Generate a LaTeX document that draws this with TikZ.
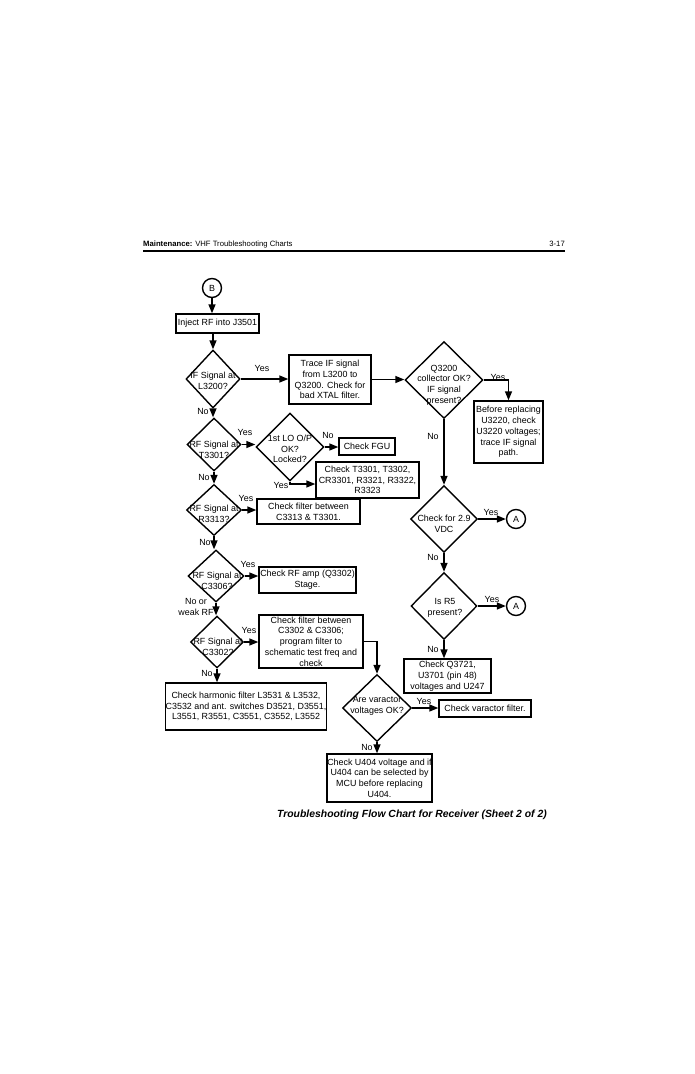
\documentclass[tikz,border=0pt]{standalone}
\usepackage{fontspec}
\setmainfont{Liberation Sans}
\usetikzlibrary{shapes.geometric,arrows.meta}
\begin{document}
\begin{tikzpicture}[x=1pt,y=-1pt,
  every node/.style={font=\fontsize{8.9}{10.7}\selectfont},
  box/.style={draw,line width=1.4pt,inner sep=0pt,align=center},
  dia/.style={draw,diamond,line width=1.4pt,inner sep=0pt},
  circ/.style={draw,circle,line width=1.4pt,minimum size=19pt,inner sep=0pt},
  txt/.style={align=center,inner sep=0pt},
  lbl/.style={inner sep=0pt},
  conn/.style={line width=1.4pt},
  arr/.style={conn,-{Triangle[length=9pt,width=7pt]}}]
\useasboundingbox (0,0) rectangle (695,1074);
% header
\node[anchor=base west,font=\fontsize{7.7}{9}\selectfont,inner sep=0pt] (hdr) at (143,246) {\textbf{Maintenance:} VHF Troubleshooting Charts};
\node[anchor=base east,font=\fontsize{7.7}{9}\selectfont,inner sep=0pt] (pg) at (565,246) {3-17};
\coordinate (rl) at (143,251);
\coordinate (rr) at (565,251);
\draw[line width=1.6pt] (rl) -- (rr);

% left column
\node[circ] (B) at (212,288) {B};
\node[box,minimum width=83pt,minimum height=19pt] (inj) at (217.5,323.5) {Inject RF into J3501};

\node[dia,minimum width=54pt,minimum height=58pt] (d1) at (213,379) {};
\node[txt] at (213,381) {IF Signal at\\L3200?};

\node[box,minimum width=82pt,minimum height=49pt] (trace) at (330,379.5) {Trace IF signal\\from L3200 to\\Q3200. Check for\\bad XTAL filter.};

\node[dia,minimum width=54pt,minimum height=53pt] (d2) at (214,444.5) {};
\node[txt] at (214,450) {RF Signal at\\T3301?};

\node[dia,minimum width=68pt,minimum height=68pt] (d3) at (290,447) {};
\node[txt] at (290,449) {1st LO O/P\\OK?\\Locked?};

\node[box,minimum width=56pt,minimum height=17pt] (fgu) at (367,446.5) {Check FGU};
\node[box,minimum width=103pt,minimum height=36pt] (t33) at (367.5,480) {Check T3301, T3302,\\CR3301, R3321, R3322,\\R3323};
\coordinate (t33y) at (0,484);

\node[dia,minimum width=55pt,minimum height=51pt] (d4) at (214,510) {};
\node[txt] at (214,514) {RF Signal at\\R3313?};
\node[box,minimum width=103pt,minimum height=25pt] (c3313) at (308.5,511.5) {Check filter between\\C3313 \& T3301.};

\node[dia,minimum width=56pt,minimum height=52pt] (d5) at (216,576) {};
\node[txt] at (217,581) {RF Signal at\\C3306?};
\node[box,minimum width=97pt,minimum height=26pt] (amp) at (307.5,580) {Check RF amp (Q3302)\\Stage.};

\node[dia,minimum width=53pt,minimum height=52pt] (d6) at (217,642) {};
\node[txt] at (218,647) {RF Signal at\\C3302?};
\node[box,minimum width=104pt,minimum height=53pt] (filt) at (311,641.5) {Check filter between\\C3302 \& C3306;\\program filter to\\schematic test freq and\\check};

\node[box,minimum width=158pt,minimum height=47pt] (harm) at (246,706.5) {Check harmonic filter L3531 \& L3532,\\C3532 and ant. switches D3521, D3551,\\L3551, R3551, C3551, C3552, L3552};

\node[dia,minimum width=69pt,minimum height=67pt] (var) at (377,708) {};
\node[txt] at (377,706) {Are varactor\\voltages OK?};
\node[box,minimum width=92pt,minimum height=17pt] (varf) at (485,708.5) {Check varactor filter.};
\node[box,minimum width=105pt,minimum height=48pt] (u404) at (379.5,778) {Check U404 voltage and if\\U404 can be selected by\\MCU before replacing\\U404.};

% right column
\node[dia,minimum width=78pt,minimum height=77pt] (q32) at (444,380) {};
\node[txt] at (444,385) {Q3200\\collector OK?\\IF signal\\present?};
\node[box,minimum width=69pt,minimum height=62pt] (bef) at (508.5,432) {Before replacing\\U3220, check\\U3220 voltages;\\trace IF signal\\path.};

\node[dia,minimum width=67pt,minimum height=67pt] (v29) at (444,519) {};
\node[txt] at (444,524) {Check for 2.9\\VDC};
\node[circ] (A1) at (516,519) {A};

\node[dia,minimum width=66pt,minimum height=67pt] (r5) at (444,606) {};
\node[txt] at (445,608) {Is R5\\present?};
\node[circ] (A2) at (516,606) {A};

\node[box,minimum width=87pt,minimum height=34pt] (q37) at (447.5,676) {Check Q3721,\\U3701 (pin 48)\\voltages and U247};

% caption
\node[font=\fontsize{10.4}{12}\selectfont\bfseries\itshape,inner sep=0pt] (cap) at (412,815) {Troubleshooting Flow Chart for Receiver (Sheet 2 of 2)};

% labels
\node[lbl] at (262,368) {Yes};
\node[lbl] at (203,411) {No};
\node[lbl] at (245,432) {Yes};
\node[lbl] at (204,477) {No};
\node[lbl] at (328,435) {No};
\node[lbl] at (281,485) {Yes};
\node[lbl] at (246,498) {Yes};
\node[lbl] at (205,542) {No};
\node[lbl] at (248,564) {Yes};
\node[lbl,align=center] at (196,607) {No or\\weak RF};
\node[lbl] at (249,630) {Yes};
\node[lbl] at (207,673) {No};
\node[lbl] at (424,701) {Yes};
\node[lbl] at (367,747) {No};
\node[lbl] at (498,377) {Yes};
\node[lbl] at (433,436) {No};
\node[lbl] at (491,512) {Yes};
\node[lbl] at (433,557) {No};
\node[lbl] at (492,599) {Yes};
\node[lbl] at (433,649) {No};

% connectors
\draw[arr] (B.south) -- (B.south |- inj.north);
\draw[arr] (d1.north |- inj.south) -- (d1.north);
\draw[arr] (d1.east) -- (d1.east -| trace.west);
\draw[arr] (trace.east) -- (trace.east -| q32.west);
\draw[arr] (q32.east) -| (bef.north);
\draw[arr] (q32.south) -- (q32.south |- v29.north);
\draw[arr] (v29.east) -- (A1.west);
\draw[arr] (v29.south) -- (v29.south |- r5.north);
\draw[arr] (r5.east) -- (A2.west);
\draw[arr] (r5.south) -- (r5.south |- q37.north);

\draw[arr] (d1.south) -- (d1.south |- d2.north);
\draw[arr] (d2.east) -- (d2.east -| d3.west);
\draw[arr] (d3.east) -- (d3.east -| fgu.west);
\draw[arr] (d3.south) |- (t33.west |- t33y);
\draw[arr] (d2.south) -- (d2.south |- d4.north);
\draw[arr] (d4.east) -- (d4.east -| c3313.west);
\draw[arr] (d4.south) -- (d4.south |- d5.north);
\draw[arr] (d5.east) -- (d5.east -| amp.west);
\draw[arr] (d5.south) -- (d5.south |- d6.north);
\draw[arr] (d6.east) -- (d6.east -| filt.west);
\draw[arr] (d6.south) -- (d6.south |- harm.north);
\draw[arr] (filt.east) -| (var.north);
\draw[arr] (var.east) -- (var.east -| varf.west);
\draw[arr] (var.south) -- (var.south |- u404.north);
\end{tikzpicture}
\end{document}
